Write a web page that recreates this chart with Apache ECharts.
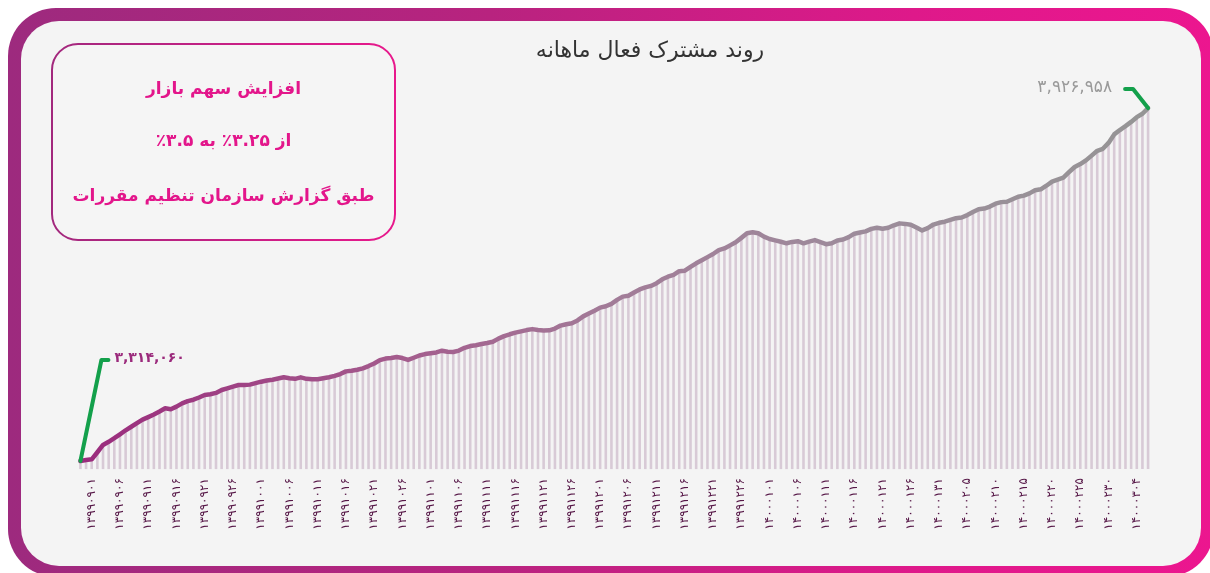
<!DOCTYPE html>
<html>
<head>
<meta charset="utf-8">
<script src="https://cdn.jsdelivr.net/npm/echarts@6/dist/echarts.min.js"></script>
<style>
html,body{margin:0;padding:0;width:1210px;height:573px;overflow:hidden;background:#fff;}
.frame{position:absolute;left:8px;top:8px;width:1206px;height:569px;border-radius:48px;
  background:linear-gradient(90deg,#9d2a7e 0%,#b8237f 40%,#de198a 75%,#ec168f 100%);}
.inner{position:absolute;left:21px;top:21px;width:1180px;height:545px;border-radius:38px;background:#f4f4f4;}
#chart{position:absolute;left:0;top:0;width:1210px;height:573px;}
</style>
</head>
<body>
<div class="frame"></div>
<div class="inner"></div>
<div id="chart"></div>
<script>
// روزها: ماه و بازه روزها
const monthSpans = [
    ["139908", 29, 30],
    ["139909", 1, 30],
    ["139910", 1, 30],
    ["139911", 1, 30],
    ["139912", 1, 30],
    ["140001", 1, 31],
    ["140002", 1, 31],
    ["140003", 1, 6]
];

// مشترک فعال روزانه
const activeUsers = [
    3314060, 3315800, 3317000, 3329300, 3341900, 3347400, 3353700, 3360400, 3367400, 3373500,
    3379900, 3386000, 3390300, 3394800, 3400000, 3405600, 3404000, 3408500, 3414100, 3418100,
    3420500, 3424300, 3428700, 3429900, 3432300, 3437400, 3440300, 3443300, 3446000, 3446000,
    3446700, 3449200, 3451800, 3453900, 3455200, 3457200, 3459400, 3457800, 3456800, 3459400,
    3456800, 3455900, 3455900, 3457700, 3459600, 3461800, 3465000, 3469700, 3470700, 3472600,
    3475000, 3478900, 3483400, 3489300, 3491900, 3492800, 3494700, 3492800, 3489600, 3493400,
    3497300, 3499700, 3501100, 3502600, 3505600, 3503700, 3503300, 3505800, 3510600, 3513600,
    3515200, 3517200, 3519000, 3521200, 3526600, 3531000, 3534100, 3536900, 3539100, 3541400,
    3543100, 3541400, 3540500, 3540900, 3544000, 3549200, 3551600, 3553400, 3558200, 3565200,
    3570200, 3575100, 3580400, 3582700, 3587000, 3593800, 3599500, 3601100, 3606700, 3612000,
    3615500, 3618100, 3622800, 3629600, 3634100, 3637400, 3643700, 3644500, 3651100, 3657400,
    3662800, 3668100, 3673500, 3680300, 3683200, 3688500, 3693800, 3701500, 3709500, 3711200,
    3709500, 3703600, 3699600, 3697100, 3694700, 3692100, 3694500, 3695700, 3692100, 3695100,
    3697700, 3694200, 3690500, 3692100, 3697000, 3698700, 3702900, 3708800, 3710900, 3712800,
    3717100, 3719200, 3717300, 3719000, 3723400, 3726700, 3725800, 3724200, 3719400, 3714500,
    3718500, 3724700, 3727700, 3729600, 3732700, 3735700, 3736900, 3741100, 3746300, 3751100,
    3752400, 3755800, 3760900, 3763600, 3764300, 3768700, 3773000, 3774900, 3778800, 3784300,
    3785900, 3792100, 3799200, 3802700, 3806200, 3815600, 3824600, 3829600, 3836100, 3844400,
    3852700, 3856200, 3866400, 3881200, 3888800, 3895600, 3902900, 3911100, 3917000, 3926958
];

const noteLines = ["افزایش سهم بازار", "از ۳.۲۵٪ به ۳.۵٪", "طبق گزارش سازمان تنظیم مقررات"];
const titleText = "روند مشترک فعال ماهانه";
const yMin = 3300000;
const yMax = 3930000;
const firstLabelIndex = 2; // اولین برچسب: ۱۳۹۹۰۹۰۱

let days = [];
monthSpans.forEach(m => {
    for (let d = m[1]; d <= m[2]; d++) {
        days.push(m[0] + (d < 10 ? "0" + d : "" + d));
    }
});

const faDigits = "۰۱۲۳۴۵۶۷۸۹";
let toFa = s => String(s).replace(/[0-9]/g, c => faDigits[+c]);
let faNumber = n => toFa(n.toLocaleString("en-US"));
let rtl = s => "\u200F" + s + "\u200F"; // جهت راست به چپ برای متن‌های ترکیبی

const font = "DejaVu Sans";

let myChart = echarts.init(document.getElementById("chart"));

let option = {
    backgroundColor: "transparent",
    animation: false,
    title: {
        text: titleText,
        left: 645,
        top: 35,
        textAlign: "center",
        textStyle: { fontFamily: font, fontSize: 22, fontWeight: "normal", color: "#333" }
    },
    grid: {
        left: 77.6,
        right: 59.1,
        top: 106.3,
        bottom: 103.9
    },
    xAxis: {
        type: "category",
        boundaryGap: true,
        data: days,
        axisLine: { show: false },
        axisTick: { show: false },
        axisLabel: {
            rotate: 90,
            margin: 9,
            color: "#561747",
            fontFamily: font,
            fontSize: 12,
            interval: (index) => index >= firstLabelIndex && (index - firstLabelIndex) % 5 === 0,
            formatter: v => toFa(v)
        }
    },
    yAxis: {
        type: "value",
        min: yMin,
        max: yMax,
        show: false
    },
    series: [
        {
            type: "bar",
            data: activeUsers,
            barWidth: 2.6,
            silent: true,
            itemStyle: { color: "#d8cad6" }
        },
        {
            type: "line",
            data: activeUsers,
            showSymbol: false,
            z: 3,
            lineStyle: {
                width: 4.5,
                join: "round",
                cap: "round",
                color: new echarts.graphic.LinearGradient(0, 0, 1, 0, [
                    { offset: 0, color: "#9a2a7c" },
                    { offset: 0.3, color: "#a45c8d" },
                    { offset: 0.5, color: "#a27c98" },
                    { offset: 0.72, color: "#9d8b9b" },
                    { offset: 1, color: "#959595" }
                ])
            }
        }
    ]
};
myChart.setOption(option);

// کادر توضیح و برچسب‌های ابتدا و انتها
let last = activeUsers.length - 1;
let p0 = myChart.convertToPixel({ xAxisIndex: 0, yAxisIndex: 0 }, [0, activeUsers[0]]);
let pn = myChart.convertToPixel({ xAxisIndex: 0, yAxisIndex: 0 }, [last, activeUsers[last]]);
let green = "#13a04b";

let boxStroke = new echarts.graphic.LinearGradient(0, 0, 1, 0, [
    { offset: 0, color: "#a2287d" },
    { offset: 1, color: "#e8188c" }
]);

myChart.setOption({
    graphic: [
        {
            type: "rect",
            shape: { x: 52, y: 44, width: 343, height: 196, r: 26 },
            style: { fill: "#f5f5f5", stroke: boxStroke, lineWidth: 2 }
        },
        ...noteLines.map((t, i) => ({
            type: "text",
            x: 223.5,
            y: [90, 142, 197][i],
            style: {
                text: rtl(t),
                textAlign: "center",
                textVerticalAlign: "middle",
                font: "bold 17px '" + font + "'",
                fill: "#e3168b"
            }
        })),
        {
            type: "polyline",
            shape: { points: [[p0[0], p0[1]], [p0[0] + 21, p0[1] - 101], [p0[0] + 28, p0[1] - 101]] },
            style: { stroke: green, lineWidth: 4, fill: null, lineCap: "round", lineJoin: "round" },
            z: 10
        },
        {
            type: "text",
            x: p0[0] + 34,
            y: p0[1] - 103,
            style: {
                text: faNumber(activeUsers[0]),
                textAlign: "left",
                textVerticalAlign: "middle",
                font: "bold 14px '" + font + "'",
                fill: "#9b2a7c"
            },
            z: 10
        },
        {
            type: "polyline",
            shape: { points: [[pn[0], pn[1]], [pn[0] - 15, pn[1] - 19], [pn[0] - 23, pn[1] - 19]] },
            style: { stroke: green, lineWidth: 4, fill: null, lineCap: "round", lineJoin: "round" },
            z: 10
        },
        {
            type: "text",
            x: pn[0] - 36,
            y: pn[1] - 20,
            style: {
                text: faNumber(activeUsers[last]),
                textAlign: "right",
                textVerticalAlign: "middle",
                font: "17px '" + font + "'",
                fill: "#9a9a9a"
            },
            z: 10
        }
    ]
});
</script>
</body>
</html>
